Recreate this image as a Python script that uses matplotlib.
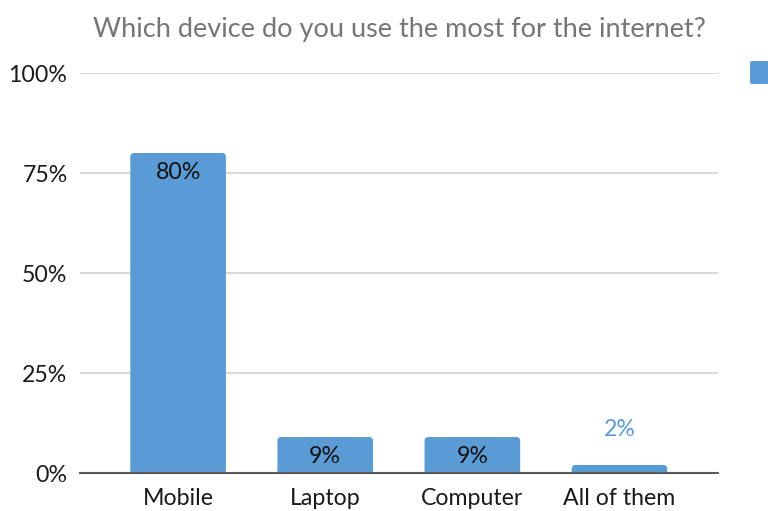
import matplotlib.pyplot as plt
from matplotlib.patches import FancyBboxPatch

plt.rcParams['font.family'] = ['Lato', 'DejaVu Sans']

categories = ["Mobile", "Laptop", "Computer", "All of them"]
values = [80, 9, 9, 2]
value_labels = ["80%", "9%", "9%", "2%"]
yticks = [0, 25, 50, 75, 100]
ytick_labels = ["0%", "25%", "50%", "75%", "100%"]

bar_color = "#5B9BD5"
W, H = 768, 511
fig = plt.figure(figsize=(W / 100, H / 100), dpi=100)
ax = fig.add_axes([80 / W, 1 - 473 / H, (718 - 80) / W, (473 - 73) / H])

xmin, xmax = -0.667, 3.67
ax.set_xlim(xmin, xmax)
ax.set_ylim(0, 100)

bar_w = 0.65
px_per_x = (718 - 80) / (xmax - xmin)
px_per_y = (473 - 73) / 100
r_px = 4
for i, v in enumerate(values):
    p = FancyBboxPatch((i - bar_w / 2, -5), bar_w, v + 5,
                       boxstyle=f"round,pad=0,rounding_size={r_px / px_per_x}",
                       mutation_aspect=px_per_x / px_per_y,
                       facecolor=bar_color, edgecolor="none", zorder=3)
    ax.add_patch(p)

fs = 16.7
for i, (v, lab) in enumerate(zip(values, value_labels)):
    if v >= 5:
        ax.text(i, v - 4.8, lab, ha="center", va="center", fontsize=fs,
                color="#111111", zorder=4)
    else:
        ax.text(i, v + 8.8, lab, ha="center", va="center", fontsize=fs,
                color=bar_color, zorder=4)

ax.set_yticks(yticks)
ax.set_yticklabels(ytick_labels, fontsize=fs, color="#1a1a1a")
ax.set_xticks(range(len(categories)))
ax.set_xticklabels(categories, fontsize=fs, color="#1a1a1a")
ax.tick_params(length=0)
ax.tick_params(axis="y", pad=9)
ax.tick_params(axis="x", pad=11)
ax.yaxis.grid(True, color="#d9d9d9", linewidth=1.5, zorder=0)
ax.set_axisbelow(True)
for s in ["top", "right", "left"]:
    ax.spines[s].set_visible(False)
ax.spines["bottom"].set_color("#595959")
ax.spines["bottom"].set_linewidth(1.5)
ax.spines["bottom"].set_zorder(5)

ax.set_title("Which device do you use the most for the internet?",
             fontsize=19.5, color="#767676", pad=26)

# legend swatch at the right edge
fig.patches.append(FancyBboxPatch((750 / W, 1 - 84 / H), 30 / W, 23 / H,
                                  boxstyle="round,pad=0,rounding_size=0.003",
                                  transform=fig.transFigure,
                                  facecolor=bar_color, edgecolor="none"))

fig.savefig("out.png", dpi=100)
